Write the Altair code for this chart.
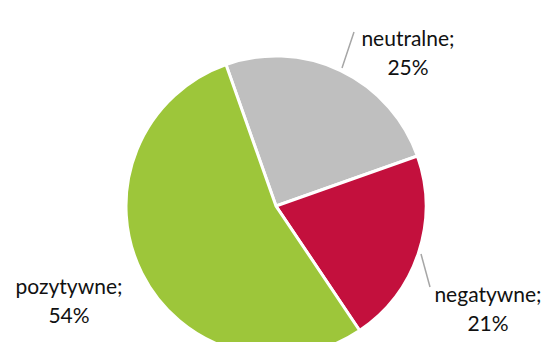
import altair as alt
import pandas as pd

categories = ["neutralne", "negatywne", "pozytywne"]
values = [25, 21, 54]
colors = ["#BFBFBF", "#C3103D", "#9DC63A"]

df = pd.DataFrame({"cat": categories, "val": values, "order": [0, 1, 2]})

start = -0.34
TAU = 6.283185307

cx, cy, r = 268, 198, 150

pie = alt.Chart(df).mark_arc(stroke="white", strokeWidth=3, outerRadius=r).encode(
    theta=alt.Theta("val:Q", stack=True, scale=alt.Scale(range=[start, start + TAU])),
    color=alt.Color("cat:N", scale=alt.Scale(domain=categories, range=colors), legend=None),
    order=alt.Order("order:Q"),
    x=alt.value(cx),
    y=alt.value(cy),
)

# label layout (pixel placement of the annotation boxes)
label_pos = {"neutralne": (400, 32), "negatywne": (480, 288), "pozytywne": (61, 280)}
leaders = {"neutralne": (346, 24, 334, 60), "negatywne": (413, 246, 422, 279)}

layers = [pie]
for c, v in zip(categories, values):
    lx, ly = label_pos[c]
    t = alt.Chart(df).transform_filter(alt.datum.cat == c).mark_text(
        font="Lato", fontSize=21, lineHeight=29, align="center", baseline="middle", color="#111111"
    ).encode(text=alt.value([f"{c};", f"{v}%"]), x=alt.value(lx), y=alt.value(ly))
    layers.append(t)
    if c in leaders:
        x1, y1, x2, y2 = leaders[c]
        rl = alt.Chart(df).transform_filter(alt.datum.cat == c).mark_rule(
            color="#A6A6A6", strokeWidth=1.5
        ).encode(x=alt.value(x1), y=alt.value(y1), x2=alt.value(x2), y2=alt.value(y2))
        layers.append(rl)

chart = alt.layer(*layers).properties(
    width=535, height=334, padding=0, autosize=alt.AutoSizeParams(type="none")
).configure_view(stroke=None)

chart.save("out.html", embed_options={"renderer": "svg", "actions": False})
